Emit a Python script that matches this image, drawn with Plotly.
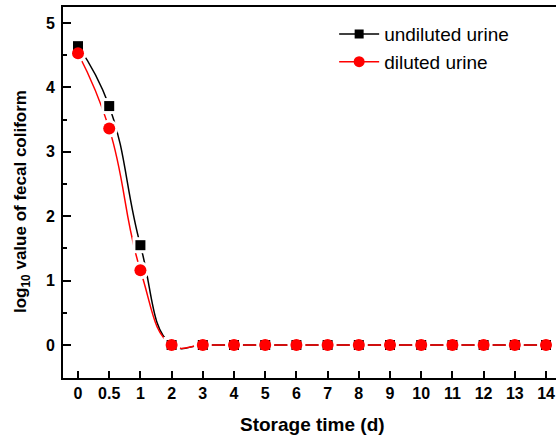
import plotly.graph_objects as go

time_labels = ["0", "0.5", "1", "2", "3", "4", "5", "6", "7", "8", "9", "10", "11", "12", "13", "14"]
undiluted = [4.64, 3.71, 1.55, 0, 0, 0, 0, 0, 0, 0, 0, 0, 0, 0, 0, 0]
diluted = [4.53, 3.36, 1.16, 0, 0, 0, 0, 0, 0, 0, 0, 0, 0, 0, 0, 0]

xi = list(range(len(time_labels)))
FONT = "Arial, Liberation Sans, sans-serif"

fig = go.Figure()
# smooth lines
fig.add_trace(go.Scatter(x=xi, y=undiluted, mode="lines", line=dict(color="black", width=1.5, shape="spline", smoothing=1.3),
                         showlegend=False, hoverinfo="skip"))
fig.add_trace(go.Scatter(x=xi, y=diluted, mode="lines", line=dict(color="red", width=1.5, shape="spline", smoothing=1.3),
                         showlegend=False, hoverinfo="skip"))
# white gaps around markers
fig.add_trace(go.Scatter(x=xi, y=undiluted, mode="markers", marker=dict(symbol="square", size=16, color="white"),
                         showlegend=False, hoverinfo="skip"))
fig.add_trace(go.Scatter(x=xi, y=diluted, mode="markers", marker=dict(symbol="circle", size=18, color="white"),
                         showlegend=False, hoverinfo="skip"))
# markers
fig.add_trace(go.Scatter(x=xi, y=undiluted, mode="markers", marker=dict(symbol="square", size=10, color="black"),
                         showlegend=False))
fig.add_trace(go.Scatter(x=xi, y=diluted, mode="markers", marker=dict(symbol="circle", size=12, color="red"),
                         showlegend=False))
# legend entries
fig.add_trace(go.Scatter(x=[None], y=[None], mode="lines+markers", name="undiluted urine",
                         line=dict(color="black", width=1.5), marker=dict(symbol="square", size=9, color="black")))
fig.add_trace(go.Scatter(x=[None], y=[None], mode="lines+markers", name="diluted urine",
                         line=dict(color="red", width=1.5), marker=dict(symbol="circle", size=11, color="red")))

fig.update_layout(
    width=556, height=436,
    margin=dict(l=63, r=0, t=7, b=58, autoexpand=False),
    paper_bgcolor="white", plot_bgcolor="white",
    font=dict(family=FONT, color="black"),
    legend=dict(x=0.550, y=0.978, xanchor="left", yanchor="top", bgcolor="rgba(0,0,0,0)",
                font=dict(size=19, family=FONT, color="black"), tracegroupgap=0, itemwidth=40),
    annotations=[
        dict(text="Storage time (d)", xref="paper", yref="paper", x=(312 - 63) / 493, y=-(424.5 - 378) / 371,
             xanchor="center", yanchor="middle", showarrow=False,
             font=dict(size=19, family=FONT, color="black", weight="bold")),
        dict(text="log<sub>10</sub> value of fecal coliform", xref="paper", yref="paper",
             x=-(63 - 22) / 493, y=(378 - 202) / 371, textangle=-90,
             xanchor="center", yanchor="middle", showarrow=False,
             font=dict(size=17, family=FONT, color="black", weight="bold")),
    ],
)
fig.update_xaxes(
    range=[-0.481, 15.32], tickmode="array", tickvals=xi, ticktext=time_labels,
    ticks="inside", ticklen=7, tickwidth=1.5, tickcolor="black", ticklabelstandoff=0,
    showline=True, linecolor="black", linewidth=2, mirror=True, showgrid=False, zeroline=False,
    tickfont=dict(size=16, family=FONT, weight="bold"), automargin=False,
)
fig.update_yaxes(
    range=[-0.512, 5.248], tickmode="array", tickvals=[0, 1, 2, 3, 4, 5],
    ticks="inside", ticklen=8, tickwidth=1.5, tickcolor="black", ticklabelstandoff=3,
    minor=dict(tickvals=[-0.5, 0.5, 1.5, 2.5, 3.5, 4.5], ticks="inside", ticklen=4, tickwidth=1.5, tickcolor="black"),
    showline=True, linecolor="black", linewidth=2, mirror=False, showgrid=False, zeroline=False,
    tickfont=dict(size=16, family=FONT, weight="bold"), automargin=False,
)

fig.write_html("out.html", config={"displayModeBar": False},
               post_script="document.body.style.margin='0';document.body.style.overflow='hidden';")
